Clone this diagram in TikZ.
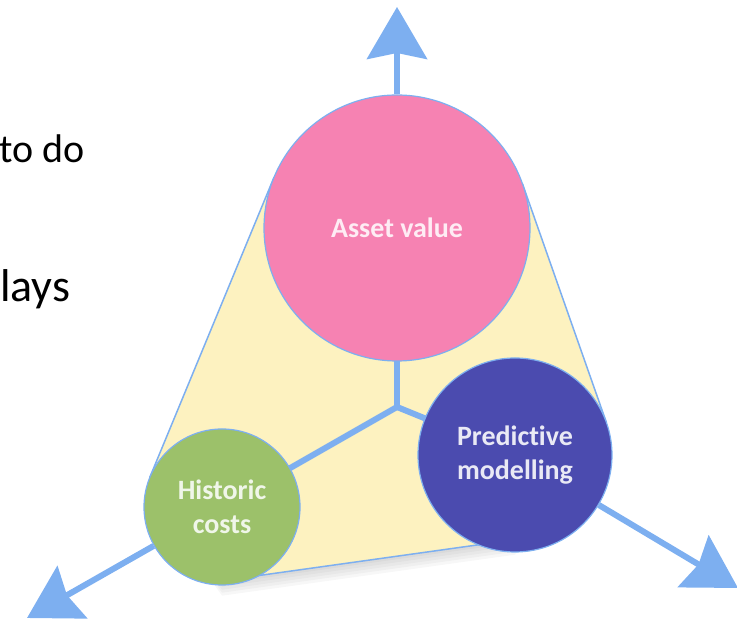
\documentclass[tikz,border=0pt]{standalone}
\usepackage{fontspec}
\setmainfont{Carlito}[Ligatures=NoCommon]
\usepackage{tikz}
\usetikzlibrary{calc, arrows.meta}
\usepackage{xcolor}
\definecolor{arrowblue}{RGB}{125, 175, 240}
\definecolor{assetpink}{RGB}{246, 130, 178}
\definecolor{histgreen}{RGB}{156, 193, 106}
\definecolor{predblue}{RGB}{75, 75, 175}
\definecolor{hullyellow}{RGB}{253, 242, 192}
\pgfdeclarelayer{background}
\pgfsetlayers{background,main}

\begin{document}
\begin{tikzpicture}[x=1pt, y=1pt, >={Stealth[length=52pt, width=60pt, inset=6pt]},
    arm/.style={arrowblue, line width=6pt, line cap=round},
    bubble/.style={circle, inner sep=0pt, draw=arrowblue, line width=1.2pt, align=center,
        font=\bfseries\fontsize{28}{34}\selectfont}]
    \useasboundingbox (0, 0) rectangle (737, 623);
    \node[anchor=base west, inner sep=0pt, font=\fontsize{40}{48}\selectfont] (todo) at (-1, 460) {to do};
    \node[anchor=base west, inner sep=0pt, font=\fontsize{46}{55}\selectfont] (lays) at (0, 321) {lays};

    \node[bubble, fill=assetpink, minimum size=266pt, text=white!85!assetpink] (asset) at (397, 395) {Asset value};
    \node[bubble, fill=histgreen, minimum size=156pt, text=white!85!histgreen] (historic) at (222, 116) {Historic\\costs};
    \node[bubble, fill=predblue, minimum size=194pt, text=white!88!predblue] (predict) at (515, 168) {Predictive\\modelling};

    \coordinate (hub) at (397, 216);
    \coordinate (tipT) at (397, 616);  \coordinate (tipL) at (27, 5);  \coordinate (tipR) at (738, 35);
    % hull corners (touching points on the circles)
    \coordinate (PL) at (274.1, 445.9);  \coordinate (GL) at (149.9, 145.9);
    \coordinate (GB) at (222, 42.3);     \coordinate (BB) at (515, 83.3);
    \coordinate (BR) at (606.5, 200.2);  \coordinate (PR) at (522.5, 439.1);

    \begin{pgfonlayer}{background}
        \foreach \s in {3, 6, ..., 15}
            \fill[black, opacity=0.03] ($(PL)+(0,-\s)$) -- ($(GL)+(0,-\s)$) -- ($(GB)+(0,-\s)$)
                -- ($(BB)+(0,-\s)$) -- ($(BR)+(0,-\s)$) -- ($(PR)+(0,-\s)$) -- cycle;
        \fill[hullyellow] (PL) -- (GL) -- (GB) -- (BB) -- (BR) -- (PR) -- cycle;
        \draw[arrowblue, line width=1.5pt] (PL) -- (GL)  (GB) -- (BB)  (BR) -- (PR);

        \draw[arm] (hub) -- (asset);
        \draw[arm] (hub) -- (historic);
        \draw[arm] (hub) -- (predict);
        \draw[arm, line cap=butt, ->] (asset) -- (tipT);
        \draw[arm, line cap=butt, ->] (historic) -- (tipL);
        \draw[arm, line cap=butt, ->] (predict) -- (tipR);
    \end{pgfonlayer}
\end{tikzpicture}
\end{document}
